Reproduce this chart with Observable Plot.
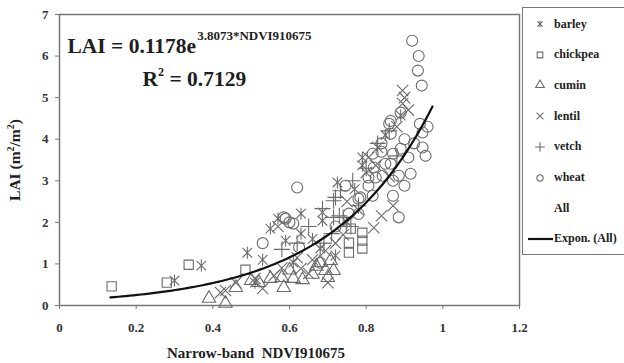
<!DOCTYPE html>
<html><head><meta charset="utf-8">
<script src="https://cdn.jsdelivr.net/npm/d3@7"></script>
<script src="https://cdn.jsdelivr.net/npm/@observablehq/plot@0.6"></script>
<style>
body{margin:0;background:#fff;}
#wrap{position:relative;width:624px;height:363px;overflow:hidden;background:#fff;font-family:"Liberation Serif",serif;}
#legend{position:absolute;left:522px;top:7px;width:120px;height:246px;border:1.5px solid #777;background:#fff;}
#legend .item{position:absolute;left:0;height:20px;display:flex;align-items:center;font-weight:bold;font-size:12px;color:#222;}
</style>
</head><body>
<div id="wrap"></div>
<script>
const xTicks = [0, 0.2, 0.4, 0.6, 0.8, 1, 1.2];
const yTicks = [0, 1, 2, 3, 4, 5, 6, 7];
const crops = ["barley", "chickpea", "cumin", "lentil", "vetch", "wheat"];

const barley = [[0.30,0.6],[0.37,0.96],[0.49,1.27],[0.51,0.55],[0.57,2.09],[0.59,1.56],[0.63,2.21],[0.63,1.73],[0.61,1.03],[0.68,1.37],[0.686,2.24],[0.686,2.04],[0.725,2.96],[0.79,3.56],[0.79,3.37],[0.89,4.57],[0.55,1.85],[0.66,1.6],[0.75,2.0],[0.85,4.1],[0.77,2.8],[0.53,1.1],[0.72,1.2]];
const chickpea = [[0.136,0.46],[0.28,0.55],[0.337,0.98],[0.485,0.86],[0.76,1.85],[0.79,1.75],[0.755,1.51],[0.79,1.56],[0.755,1.27],[0.79,1.37]];
const cumin = [[0.39,0.17],[0.433,0.05],[0.46,0.43],[0.50,0.6],[0.55,0.65],[0.58,0.67],[0.585,0.43],[0.61,0.65],[0.634,0.62],[0.67,0.94],[0.68,1.03],[0.707,1.08],[0.694,0.84],[0.715,0.84],[0.70,0.67],[0.52,0.55],[0.60,0.85],[0.66,0.75]];
const lentil = [[0.42,0.31],[0.433,0.36],[0.46,0.55],[0.51,0.65],[0.53,0.41],[0.56,0.72],[0.58,0.9],[0.63,0.89],[0.65,0.77],[0.66,1.1],[0.694,1.32],[0.70,0.55],[0.72,1.5],[0.74,1.7],[0.78,2.3],[0.82,1.87],[0.84,2.16],[0.80,3.2],[0.806,3.56],[0.825,3.37],[0.83,3.8],[0.86,3.1],[0.88,4.3],[0.895,5.17],[0.90,5.0],[0.895,4.86],[0.91,4.7],[0.62,1.15],[0.75,2.5],[0.87,2.4],[0.57,1.9]];
const vetch = [[0.765,3.0],[0.715,2.52],[0.733,2.76],[0.73,2.16],[0.72,2.6],[0.686,2.33],[0.715,2.12],[0.74,2.12],[0.71,1.73],[0.65,1.9],[0.62,1.5],[0.80,3.3],[0.83,3.9],[0.86,4.2],[0.78,2.4],[0.69,1.5],[0.76,1.9],[0.58,1.35],[0.88,3.6]];
const wheat = [[0.92,6.37],[0.937,6.0],[0.935,5.65],[0.945,5.29],[0.864,4.44],[0.89,4.64],[0.94,4.37],[0.947,4.16],[0.84,3.9],[0.90,4.0],[0.89,3.77],[0.947,3.8],[0.955,3.6],[0.864,3.41],[0.91,3.56],[0.916,3.17],[0.82,3.32],[0.62,2.84],[0.53,1.5],[0.59,2.09],[0.61,1.97],[0.625,1.4],[0.68,1.03],[0.806,2.88],[0.817,2.64],[0.87,2.64],[0.885,2.12],[0.90,2.88],[0.78,2.57],[0.755,2.21],[0.864,4.13],[0.817,3.65],[0.87,3.65],[0.85,3.41],[0.806,3.08],[0.843,3.12],[0.825,3.08],[0.885,3.12],[0.785,2.6],[0.746,2.88],[0.585,2.12],[0.60,2.0],[0.86,4.37],[0.84,3.7],[0.96,4.3],[0.72,1.9],[0.925,3.9],[0.87,3.0],[0.78,2.2]];

// Exponential fit shown on the chart: LAI = a * e^(b * NDVI)
const fitA = 0.1178, fitB = 3.8073, fitR2 = 0.7129;
const fitRange = [0.133, 0.98];
const fitX = d3.range(fitRange[0], fitRange[1] + 1e-9, 0.01);
const fitLine = fitX.map(x => [x, fitA * Math.exp(fitB * x)]);

const barleySymbol = {
  draw(ctx, size) {
    const r = Math.sqrt(size / Math.PI);
    const a = r * 0.8;
    ctx.moveTo(-a, -a); ctx.lineTo(a, a);
    ctx.moveTo(a, -a); ctx.lineTo(-a, a);
    ctx.moveTo(0, -r); ctx.lineTo(0, r);
  }
};
const symbolFor = {barley: barleySymbol, chickpea: "square", cumin: "triangle", lentil: "times", vetch: "plus", wheat: "circle"};
const sizeFor = {barley: 6, chickpea: 5.2, cumin: 5, lentil: 5.2, vetch: 5.2, wheat: 5.5};
const dataFor = {barley, chickpea, cumin, lentil, vetch, wheat};
const markerColor = "#6c6c6c";

const dotMarks = crops.map(c => Plot.dot(dataFor[c], {
  x: d => d[0], y: d => d[1], symbol: symbolFor[c], r: sizeFor[c],
  stroke: markerColor, strokeWidth: 1.1, fill: "none"
}));

const plot = Plot.plot({
  width: 624, height: 363,
  marginLeft: 59, marginRight: 105, marginTop: 14, marginBottom: 58,
  x: {domain: [0, 1.2]},
  y: {domain: [0, 7]},
  style: {fontFamily: "Liberation Serif", fontWeight: "bold", fontSize: "13px", color: "#333", background: "transparent"},
  marks: [
    Plot.frame({stroke: "#777", strokeWidth: 1.5}),
    Plot.axisX({ticks: xTicks, tickSize: 4, tickPadding: 13, tickFormat: d => String(d), label: null, stroke: "#777"}),
    Plot.axisY({ticks: yTicks, tickSize: 4, tickPadding: 7, tickFormat: d => String(d), label: null, stroke: "#777"}),
    ...dotMarks,
    Plot.line(fitLine, {x: d => d[0], y: d => d[1], stroke: "#111", strokeWidth: 2.2})
  ]
});

const wrap = document.getElementById("wrap");
wrap.appendChild(plot);

const svg = d3.select(plot);
const sx = plot.scale("x"), sy = plot.scale("y");
const tc = "#1e1e1e";

// equation annotation
const eq = svg.append("text").attr("x", sx.apply(0.022)).attr("y", sy.apply(6.06)).attr("text-anchor", "start")
  .attr("font-family", "Liberation Serif").attr("font-weight", "bold").attr("font-size", 21.5).attr("fill", tc);
eq.append("tspan").text(`LAI = ${fitA}e`);
eq.append("tspan").attr("dy", -13).attr("dx", 1).attr("font-size", 13).text(`${fitB}*NDVI910675`);

const r2 = svg.append("text").attr("x", sx.apply(0.218)).attr("y", sy.apply(5.27)).attr("text-anchor", "start")
  .attr("font-family", "Liberation Serif").attr("font-weight", "bold").attr("font-size", 21.5).attr("fill", tc);
r2.append("tspan").text("R");
r2.append("tspan").attr("dy", -10).attr("font-size", 12).text("2");
r2.append("tspan").attr("dy", 10).text(` = ${fitR2}`);

// axis titles
svg.append("text").attr("x", 256).attr("y", 358).attr("text-anchor", "middle")
  .attr("font-family", "Liberation Serif").attr("font-weight", "bold").attr("font-size", 15).attr("fill", tc)
  .attr("xml:space", "preserve").text("Narrow-band  NDVI910675");
const yl = svg.append("text").attr("transform", "translate(20,160) rotate(-90)").attr("text-anchor", "middle")
  .attr("font-family", "Liberation Serif").attr("font-weight", "bold").attr("font-size", 15.5).attr("fill", tc);
yl.append("tspan").text("LAI (m");
yl.append("tspan").attr("dy", -6).attr("font-size", 10).text("2");
yl.append("tspan").attr("dy", 6).text("/m");
yl.append("tspan").attr("dy", -6).attr("font-size", 10).text("2");
yl.append("tspan").attr("dy", 6).text(")");

// legend
const legend = document.createElement("div");
legend.id = "legend";
wrap.appendChild(legend);
const entries = [...crops, "All", "Expon. (All)"];
entries.forEach((name, i) => {
  const item = document.createElement("div");
  item.className = "item";
  item.style.top = (6 + i * 30.7) + "px";
  const s = d3.create("svg").attr("width", 30).attr("height", 20);
  if (crops.includes(name)) {
    const sym = symbolFor[name];
    const t = typeof sym === "string" ? {square: d3.symbolSquare, triangle: d3.symbolTriangle, times: d3.symbolTimes, plus: d3.symbolPlus, circle: d3.symbolCircle}[sym] : sym;
    s.append("path").attr("transform", "translate(17,10)").attr("d", d3.symbol(t, 32)())
      .attr("fill", "none").attr("stroke", markerColor).attr("stroke-width", 1.1);
  } else if (name === "Expon. (All)") {
    s.append("line").attr("x1", 5).attr("x2", 30).attr("y1", 10).attr("y2", 10).attr("stroke", "#111").attr("stroke-width", 2.2);
  }
  item.appendChild(s.node());
  const label = document.createElement("span");
  label.textContent = name;
  label.style.marginLeft = "1px";
  item.appendChild(label);
  legend.appendChild(item);
});
</script>
</body></html>
